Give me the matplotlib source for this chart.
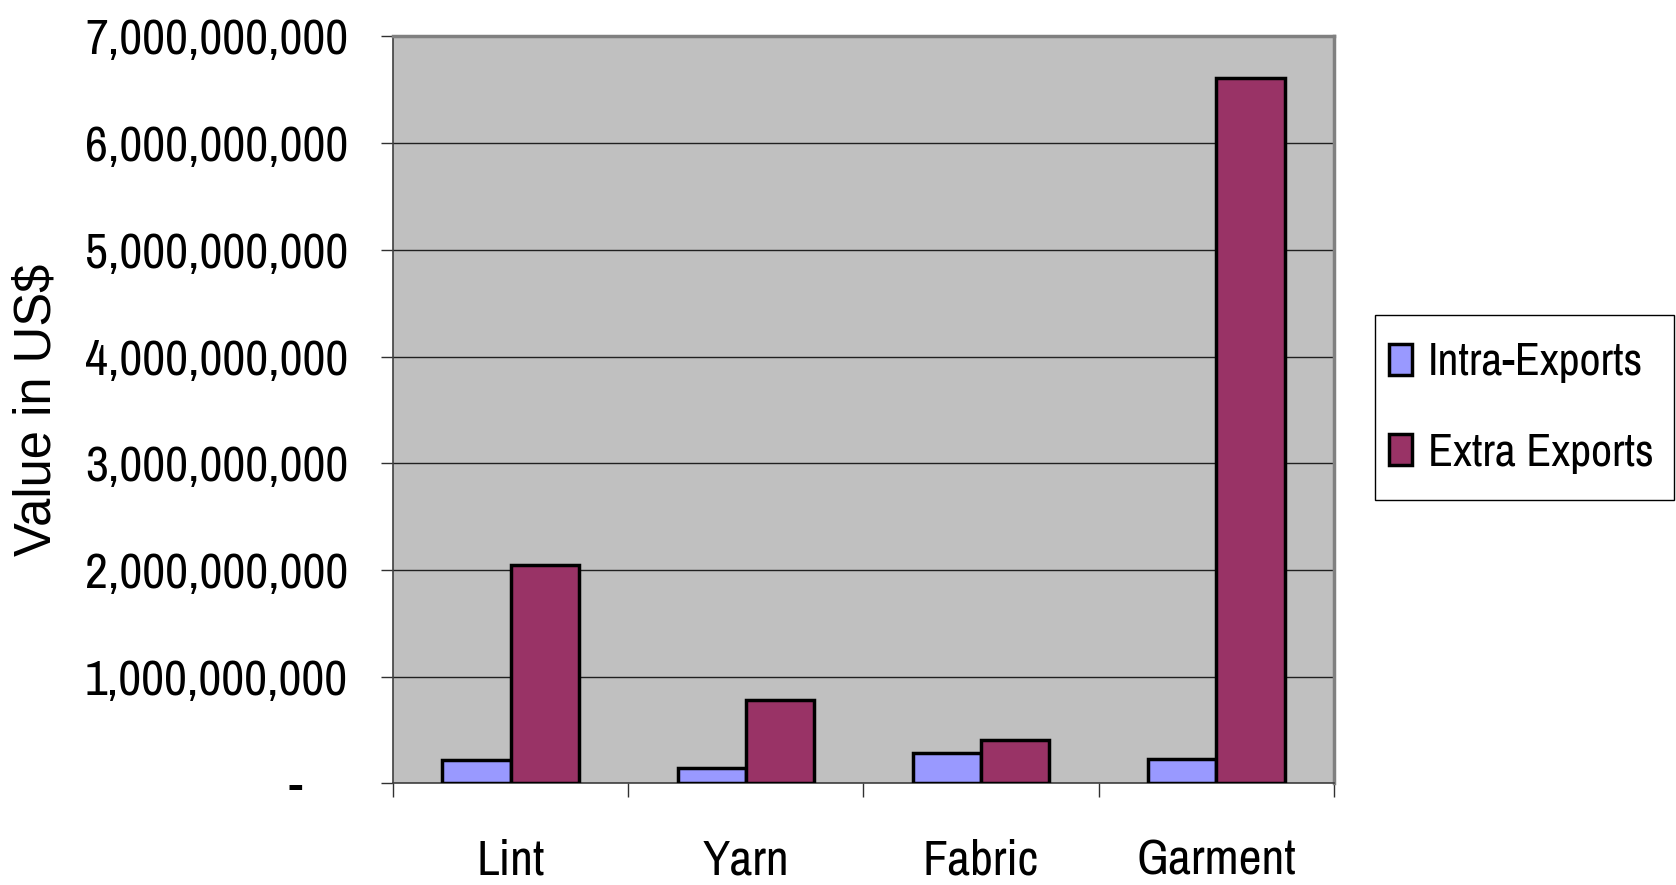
import numpy as np
import matplotlib.pyplot as plt
from matplotlib.patches import Rectangle
from matplotlib.ticker import FuncFormatter, FixedLocator

categories = ["Lint", "Yarn", "Fabric", "Garment"]
intra_exports = [0.22e9, 0.14e9, 0.28e9, 0.23e9]
extra_exports = [2.05e9, 0.78e9, 0.41e9, 6.61e9]
y_ticks = [0, 1e9, 2e9, 3e9, 4e9, 5e9, 6e9, 7e9]

plt.rcParams['font.family'] = ['Arial Narrow', 'Archivo Narrow', 'Liberation Sans', 'DejaVu Sans']

fig = plt.figure(figsize=(16.76, 8.85), dpi=100)
ax = fig.add_axes([0.2345, 0.1149, 0.5614, 0.8439])
ax.set_facecolor("#C0C0C0")

x = np.arange(len(categories))
w = 0.29
ax.bar(x - w / 2, intra_exports, w, color="#9999FF", edgecolor="black",
       linewidth=2.5, label="Intra-Exports", zorder=3)
ax.bar(x + w / 2, extra_exports, w, color="#993366", edgecolor="black",
       linewidth=2.5, label="Extra Exports", zorder=3)

ax.set_xlim(-0.5, len(categories) - 0.5)
ax.set_ylim(0, 7e9)
ax.set_yticks(y_ticks)
ax.yaxis.set_major_formatter(FuncFormatter(
    lambda v, p: "-    " if v == 0 else "{:,.0f}".format(v)))
ax.grid(axis="y", color="#202020", linewidth=1.0, zorder=1)

ax.set_xticks(x)
ax.set_xticklabels(categories)
ax.xaxis.set_minor_locator(FixedLocator(np.arange(-0.5, len(categories), 1.0)))
ax.tick_params(axis="x", which="major", length=0, pad=40, labelsize=36)
ax.tick_params(axis="x", which="minor", length=10, width=1.0, color="#303030")
ax.tick_params(axis="y", length=8.3, width=1.0, color="#303030", pad=24, labelsize=36)

for s in ["top", "right"]:
    ax.spines[s].set_color("#808080")
    ax.spines[s].set_linewidth(2.5)
for s in ["left", "bottom"]:
    ax.spines[s].set_color("#404040")
    ax.spines[s].set_linewidth(1.2)

fig.text(0.0221, 0.5367, "Value in US$", rotation=90, ha="center", va="center",
         fontsize=36.5, family=["Liberation Sans", "DejaVu Sans"])

# legend box drawn separately so it can be taller than the entries
fig.patches.append(Rectangle((0.8204, 0.435), 0.1785, 0.209, transform=fig.transFigure,
                             facecolor="white", edgecolor="black", linewidth=1.0,
                             zorder=0))
leg = fig.legend(loc="center left", bbox_to_anchor=(0.8204, 0.5395),
                 fontsize=33, frameon=False,
                 handlelength=0.5, handleheight=0.66, handletextpad=0.35,
                 labelspacing=1.05, borderpad=0.3, borderaxespad=0)

fig.savefig("out.png", dpi=100)
